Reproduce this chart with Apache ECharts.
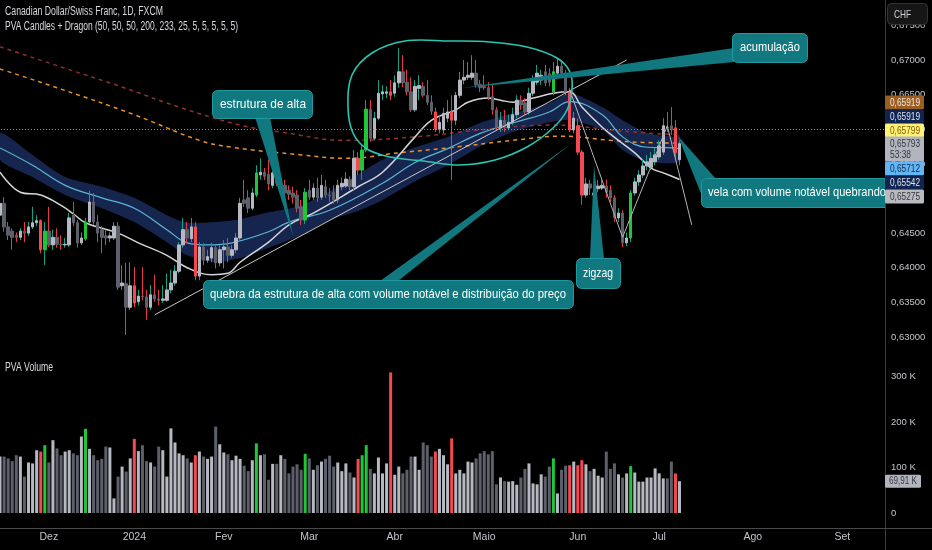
<!DOCTYPE html>
<html><head><meta charset="utf-8">
<script src="https://cdn.jsdelivr.net/npm/echarts/dist/echarts.min.js"></script>
<style>html,body{margin:0;padding:0;background:#000;}#c{width:932px;height:550px;}</style>
</head><body><div id="c"></div>
<script>
// ---------- DATA ----------
const openP = [
0.6476,0.6493,0.6459,0.6453,0.6447,0.6444,0.6453,0.6450,0.6459,0.6465,
0.6468,0.6426,0.6453,0.6433,0.6444,0.6434,0.6433,0.6433,0.6476,0.6465,
0.6436,0.6442,0.6466,0.6495,0.6466,0.6455,0.6446,0.6443,0.6443,0.6460,
0.6374,0.6377,0.6343,0.6374,0.6351,0.6359,0.6358,0.6343,0.6361,0.6355,
0.6353,0.6353,0.6368,0.6378,0.6395,0.6433,0.6455,0.6442,0.6459,0.6388,
0.6430,0.6411,0.6414,0.6429,0.6407,0.6426,0.6430,0.6418,0.6426,0.6443,
0.6498,0.6501,0.6486,0.6505,0.6534,0.6538,0.6535,0.6519,0.6537,0.6512,
0.6519,0.6512,0.6508,0.6505,0.6488,0.6469,0.6512,0.6502,0.6515,0.6502,
0.6517,0.6505,0.6509,0.6498,0.6517,0.6518,0.6527,0.6517,0.6558,0.6541,
0.6570,0.6629,0.6587,0.6616,0.6651,0.6652,0.6654,0.6652,0.6667,0.6683,
0.6668,0.6654,0.6628,0.6659,0.6662,0.6649,0.6639,0.6625,0.6600,0.6599,
0.6616,0.6625,0.6613,0.6649,0.6671,0.6675,0.6675,0.6681,0.6665,0.6662,
0.6660,0.6647,0.6628,0.6603,0.6613,0.6602,0.6610,0.6621,0.6642,0.6638,
0.6625,0.6652,0.6668,0.6671,0.6683,0.6680,0.6654,0.6681,0.6691,0.6681,
0.6654,0.6599,0.6605,0.6567,0.6505,0.6521,0.6505,0.6514,0.6515,0.6518,
0.6512,0.6501,0.6472,0.6479,0.6436,0.6443,0.6508,0.6524,0.6534,0.6547,
0.6545,0.6553,0.6560,0.6567,0.6603,0.6605,0.6602,0.6556];
const highP = [
0.6501,0.6502,0.6466,0.6457,0.6451,0.6457,0.6466,0.6466,0.6488,0.6476,
0.6470,0.6466,0.6488,0.6455,0.6457,0.6447,0.6443,0.6479,0.6495,0.6469,
0.6451,0.6472,0.6511,0.6508,0.6476,0.6460,0.6455,0.6451,0.6466,0.6466,
0.6404,0.6407,0.6408,0.6401,0.6368,0.6401,0.6368,0.6375,0.6390,0.6368,
0.6375,0.6392,0.6397,0.6404,0.6437,0.6472,0.6466,0.6472,0.6466,0.6437,
0.6436,0.6426,0.6436,0.6433,0.6433,0.6440,0.6443,0.6433,0.6450,0.6501,
0.6527,0.6512,0.6515,0.6548,0.6558,0.6544,0.6556,0.6548,0.6541,0.6530,
0.6527,0.6519,0.6517,0.6512,0.6498,0.6515,0.6527,0.6522,0.6530,0.6534,
0.6527,0.6515,0.6519,0.6527,0.6530,0.6538,0.6532,0.6570,0.6567,0.6577,
0.6642,0.6642,0.6625,0.6671,0.6664,0.6662,0.6671,0.6678,0.6717,0.6707,
0.6686,0.6675,0.6671,0.6678,0.6668,0.6671,0.6649,0.6631,0.6621,0.6631,
0.6642,0.6649,0.6654,0.6683,0.6700,0.6697,0.6707,0.6700,0.6671,0.6678,
0.6668,0.6664,0.6632,0.6625,0.6628,0.6621,0.6631,0.6649,0.6649,0.6645,
0.6660,0.6678,0.6693,0.6686,0.6693,0.6688,0.6697,0.6703,0.6700,0.6686,
0.6660,0.6625,0.6616,0.6570,0.6530,0.6527,0.6519,0.6527,0.6527,0.6527,
0.6519,0.6505,0.6486,0.6483,0.6451,0.6512,0.6530,0.6541,0.6556,0.6563,
0.6567,0.6573,0.6584,0.6616,0.6625,0.6632,0.6613,0.6584];
const lowP = [
0.6469,0.6452,0.6440,0.6426,0.6437,0.6440,0.6437,0.6446,0.6456,0.6460,
0.6421,0.6404,0.6430,0.6426,0.6429,0.6426,0.6429,0.6430,0.6460,0.6429,
0.6433,0.6439,0.6463,0.6462,0.6437,0.6421,0.6433,0.6437,0.6440,0.6368,
0.6368,0.6303,0.6339,0.6343,0.6346,0.6353,0.6325,0.6339,0.6351,0.6346,
0.6349,0.6351,0.6363,0.6374,0.6392,0.6429,0.6436,0.6437,0.6382,0.6382,
0.6404,0.6407,0.6408,0.6399,0.6402,0.6399,0.6408,0.6414,0.6421,0.6440,
0.6488,0.6479,0.6483,0.6502,0.6527,0.6527,0.6512,0.6515,0.6518,0.6508,
0.6504,0.6498,0.6493,0.6480,0.6462,0.6463,0.6498,0.6498,0.6495,0.6498,
0.6501,0.6495,0.6492,0.6493,0.6512,0.6515,0.6512,0.6512,0.6534,0.6527,
0.6567,0.6582,0.6584,0.6613,0.6642,0.6645,0.6642,0.6647,0.6660,0.6661,
0.6649,0.6625,0.6625,0.6642,0.6646,0.6635,0.6621,0.6596,0.6594,0.6594,
0.6610,0.6527,0.6606,0.6645,0.6665,0.6671,0.6671,0.6660,0.6654,0.6657,
0.6642,0.6621,0.6599,0.6596,0.6596,0.6599,0.6606,0.6616,0.6628,0.6621,
0.6621,0.6648,0.6664,0.6664,0.6662,0.6662,0.6649,0.6677,0.6677,0.6649,
0.6596,0.6594,0.6563,0.6491,0.6501,0.6505,0.6498,0.6509,0.6512,0.6501,
0.6495,0.6466,0.6466,0.6430,0.6431,0.6437,0.6504,0.6518,0.6530,0.6541,
0.6541,0.6548,0.6556,0.6563,0.6596,0.6592,0.6558,0.6548];
const closeP = [
0.6493,0.6459,0.6447,0.6444,0.6444,0.6453,0.6450,0.6459,0.6465,0.6468,
0.6426,0.6453,0.6433,0.6444,0.6434,0.6433,0.6434,0.6472,0.6465,0.6436,
0.6443,0.6466,0.6495,0.6466,0.6450,0.6444,0.6443,0.6446,0.6460,0.6372,
0.6378,0.6343,0.6374,0.6349,0.6359,0.6358,0.6343,0.6361,0.6355,0.6353,
0.6355,0.6368,0.6378,0.6395,0.6433,0.6455,0.6443,0.6459,0.6388,0.6430,
0.6411,0.6416,0.6429,0.6407,0.6426,0.6430,0.6418,0.6426,0.6443,0.6493,
0.6493,0.6486,0.6508,0.6537,0.6538,0.6532,0.6521,0.6537,0.6522,0.6519,
0.6508,0.6506,0.6502,0.6486,0.6469,0.6509,0.6502,0.6515,0.6501,0.6519,
0.6505,0.6504,0.6498,0.6519,0.6522,0.6528,0.6517,0.6558,0.6541,0.6570,
0.6629,0.6587,0.6616,0.6652,0.6654,0.6654,0.6649,0.6667,0.6683,0.6667,
0.6654,0.6628,0.6662,0.6663,0.6649,0.6639,0.6626,0.6600,0.6610,0.6623,
0.6625,0.6613,0.6649,0.6671,0.6675,0.6678,0.6681,0.6664,0.6660,0.6660,
0.6647,0.6628,0.6603,0.6613,0.6602,0.6610,0.6621,0.6642,0.6635,0.6625,
0.6652,0.6671,0.6681,0.6678,0.6667,0.6668,0.6683,0.6691,0.6681,0.6654,
0.6599,0.6616,0.6567,0.6505,0.6521,0.6515,0.6508,0.6518,0.6519,0.6509,
0.6501,0.6472,0.6479,0.6436,0.6443,0.6508,0.6524,0.6534,0.6547,0.6553,
0.6558,0.6563,0.6576,0.6605,0.6602,0.6599,0.6566,0.65793];
// volume in thousands
const volumeK = [
124,124,120,114,127,124,80,111,109,138,
135,149,111,160,142,127,135,138,131,127,
168,185,141,127,116,119,146,144,32,80,
102,91,120,163,136,149,114,111,102,146,
138,80,186,155,131,127,120,111,127,135,
124,119,124,190,151,133,129,116,126,119,
104,92,116,153,127,129,73,108,108,127,
119,87,102,107,95,130,120,95,105,113,
119,126,102,111,92,109,89,78,119,127,
149,97,87,122,87,109,309,84,102,87,
95,124,124,95,155,149,124,135,141,127,
107,164,87,95,87,113,111,120,131,136,
129,136,63,78,70,69,70,62,78,97,
109,65,63,85,80,102,120,43,95,104,
105,113,105,116,107,92,97,82,78,135,
97,109,85,78,87,103,89,69,69,78,
78,98,87,76,76,113,87,69.91];
// bars with notable (climax) volume
const climaxBars = [10,11,21,33,48,63,75,88,89,90,96,107,111,136,140,142,143,155,166];

// indicator lines (bar index, value)
const fastMaIdx = [0,5,10,15,18,21,29,34,41,46,52,56,59,66,71,77,88,94,102,106,112,115,120,123,126,131,136,140,143,148,152,156,160,163,166,167];
const fastMaVal = [0.6538,0.6509,0.6505,0.6490,0.6478,0.6465,0.6450,0.6436,0.6418,0.6400,0.6390,0.6392,0.6408,0.6437,0.6462,0.6479,0.6517,0.6538,0.6589,0.6613,0.6628,0.6639,0.6645,0.6642,0.6639,0.6645,0.6652,0.6654,0.6632,0.6603,0.6584,0.6566,0.6544,0.6537,0.6530,0.65275];
const midIdx = [0,8,16,25,33,41,46,51,57,66,71,81,94,102,110,118,126,135,140,148,153,159,166,167];
const midVal = [0.6573,0.6548,0.6519,0.6501,0.6486,0.6455,0.6436,0.6433,0.6436,0.6452,0.6466,0.6483,0.6522,0.6552,0.6572,0.6594,0.6609,0.6625,0.6640,0.6621,0.6589,0.6574,0.6573,0.65712];
const bandIdx = [0,8,16,25,33,41,46,53,59,66,74,81,88,94,102,110,118,126,135,140,148,153,159,166,167];
const bandUp = [0.6595,0.6563,0.6531,0.6517,0.6501,0.6476,0.6465,0.6466,0.6470,0.6480,0.6490,0.6510,0.6535,0.6556,0.6574,0.6589,0.6609,0.6623,0.6638,0.6652,0.6632,0.6613,0.6595,0.6589,0.65919];
const bandLo = [0.6556,0.6531,0.6505,0.6486,0.6466,0.6437,0.6418,0.6408,0.6414,0.6429,0.6447,0.6469,0.6482,0.6498,0.6525,0.6548,0.6575,0.6596,0.6610,0.6613,0.6599,0.6570,0.6553,0.6551,0.65542];
const slowAIdx = [0,15,30,44,59,69,85,102,118,135,141,150,158,167];
const slowAVal = [0.6719,0.6690,0.6661,0.6632,0.6606,0.6596,0.6584,0.6589,0.6599,0.6606,0.6605,0.6599,0.6595,0.65919];
const slowBIdx = [0,15,33,49,57,74,85,98,110,126,138,150,158,167];
const slowBVal = [0.6687,0.6658,0.6621,0.6584,0.6574,0.6563,0.6558,0.6566,0.6573,0.6584,0.6590,0.6584,0.6581,0.65799];
// drawings
const trendIdx = [38,154];
const trendVal = [0.6332,0.6700];
const zigIdx = [140,153,164,170];
const zigVal = [0.6657,0.6444,0.6605,0.6462];

const monthNames = ['Jan','Fev','Mar','Abr','Maio','Jun','Jul','Ago','Set','Out','Nov','Dez'];
const priceTagTexts = ['0,65919','0,65919','0,65799','0,65793','0,65712','0,65542','0,65275'];
const countdownText = '53:38';
const volTagText = '69,91 K';
const titleLine1 = 'Canadian Dollar/Swiss Franc, 1D, FXCM';
const titleLine2 = 'PVA Candles + Dragon (50, 50, 50, 200, 233, 25, 5, 5, 5, 5, 5)';
const volTitle = 'PVA Volume';
const notes = ['estrutura de alta','acumulação','quebra da estrutura de alta com volume notável e distribuição do preço','zigzag','vela com volume notável quebrando'];

// ---------- categories: trading days ----------
const holidays = ['2024-01-01'];
const dates = [];
(function(){
  let t = Date.UTC(2023,10,15);
  while (dates.length < 218) {
    const d = new Date(t);
    const s = d.toISOString().slice(0,10);
    const wd = d.getUTCDay();
    if (wd !== 0 && wd !== 6 && holidays.indexOf(s) < 0) dates.push(s);
    t += 86400000;
  }
})();

const AXF = "'Liberation Sans',Arial,sans-serif";
const COL = {bull:'#b6b9c1', bear:'#5d606b', up:'#1fc63a', down:'#f5484f', wUp:'#12a088', wDown:'#e8394a'};
function isUp(i){ return closeP[i] >= openP[i]; }
function bodyColor(i){
  const up = isUp(i);
  if (climaxBars.indexOf(i) >= 0) return up ? COL.up : COL.down;
  return up ? COL.bull : COL.bear;
}
const wickData = closeP.map((c,i)=>{ const w = isUp(i)?COL.wUp:COL.wDown;
  return {value:[openP[i], c, lowP[i], highP[i]], itemStyle:{color:w,color0:w,borderColor:w,borderColor0:w}}; });
const bodyData = closeP.map((c,i)=>{ const b = bodyColor(i);
  return {value:[openP[i], c, Math.min(openP[i],c), Math.max(openP[i],c)], itemStyle:{color:b,color0:b,borderColor:b,borderColor0:b}}; });
const volData = volumeK.map((v,i)=>({value:v, itemStyle:{color:bodyColor(i)}}));
const pairs = (ix, vals) => ix.map((x,k)=>[x, vals[k]]);
const lastClose = closeP[closeP.length-1];

const chart = echarts.init(document.getElementById('c'));
const axisLabelBase = {color:'#c3c5cc', fontSize:9.5, fontFamily:AXF};
chart.setOption({
  backgroundColor:'#000000',
  animation:false,
  grid:[
    {left:-2, right:47, top:-9.25, height:380.9, outerBoundsMode:'none', containLabel:false},
    {left:-2, right:47, top:353.75, height:159.25, outerBoundsMode:'none', containLabel:false}
  ],
  xAxis:[
    {type:'category', gridIndex:0, data:dates, show:false, boundaryGap:true},
    {type:'category', gridIndex:1, data:dates, boundaryGap:true,
      axisLine:{show:false}, axisTick:{show:false}, splitLine:{show:false},
      axisLabel:{color:'#c3c5cc', fontSize:10.5, fontFamily:AXF, margin:19,
        interval:(idx,v)=> idx>0 && v.slice(0,7)!==dates[idx-1].slice(0,7),
        formatter:(v)=>{ const m=+v.slice(5,7); return m===1 ? v.slice(0,4) : monthNames[m-1]; }}}
  ],
  yAxis:[
    {type:'value', gridIndex:0, position:'right', min:0.625, max:0.68, interval:0.005,
      axisLine:{show:false}, axisTick:{show:false}, splitLine:{show:false},
      axisLabel:Object.assign({}, axisLabelBase, {margin:6, showMinLabel:false, showMaxLabel:false,
        formatter:v=>v.toFixed(5).replace('.',',')})},
    {type:'value', gridIndex:1, position:'right', min:0, max:350, interval:100,
      axisLine:{show:false}, axisTick:{show:false}, splitLine:{show:false},
      axisLabel:Object.assign({}, axisLabelBase, {margin:6, showMaxLabel:false,
        formatter:v=> v===0 ? '0' : v+' K'})}
  ],
  series:[
    {type:'custom', name:'band', xAxisIndex:0, yAxisIndex:0, silent:true, z:1, data:[[0,0.65]],
      renderItem:(params, api)=>{
        const up = bandIdx.map((x,k)=>api.coord([x, bandUp[k]]));
        const lo = bandIdx.map((x,k)=>api.coord([x, bandLo[k]])).reverse();
        return {type:'polygon', shape:{points:up.concat(lo), smooth:0.25}, style:{fill:'#172752', opacity:0.95}};
      }},
    {type:'line', xAxisIndex:0, yAxisIndex:0, data:pairs(slowAIdx, slowAVal), smooth:0.4, showSymbol:false, silent:true, z:2,
      lineStyle:{color:'#8f2f2f', width:1.5, type:[4,4]}},
    {type:'line', xAxisIndex:0, yAxisIndex:0, data:pairs(slowBIdx, slowBVal), smooth:0.4, showSymbol:false, silent:true, z:2,
      lineStyle:{color:'#e8922c', width:1.5, type:[4,4]}},
    {type:'line', xAxisIndex:0, yAxisIndex:0, data:pairs(midIdx, midVal), smooth:0.4, showSymbol:false, silent:true, z:2,
      lineStyle:{color:'#5cb6d2', width:1.2}},
    {type:'line', xAxisIndex:0, yAxisIndex:0, data:pairs(fastMaIdx, fastMaVal), smooth:0.4, showSymbol:false, silent:true, z:2,
      lineStyle:{color:'#d6d6d6', width:1.5}},
    {type:'candlestick', xAxisIndex:0, yAxisIndex:0, data:wickData, barWidth:1, silent:true, z:3},
    {type:'candlestick', xAxisIndex:0, yAxisIndex:0, data:bodyData, barWidth:3, silent:true, z:4,
      markLine:{silent:true, symbol:['none','none'], label:{show:false},
        lineStyle:{color:'#8c8f98', type:[1,2], width:1}, data:[{yAxis:lastClose}]}},
    {type:'bar', xAxisIndex:1, yAxisIndex:1, data:volData, barWidth:3, silent:true},
    {type:'line', xAxisIndex:0, yAxisIndex:0, data:pairs(trendIdx, trendVal), showSymbol:false, silent:true, z:6,
      lineStyle:{color:'#c9c9c9', width:1}},
    {type:'line', xAxisIndex:0, yAxisIndex:0, data:pairs(zigIdx, zigVal), showSymbol:false, silent:true, z:6,
      lineStyle:{color:'#b5b5b5', width:1}}
  ]
});

// ---------- annotations / labels ----------
const mctx = document.createElement('canvas').getContext('2d');
function fitText(str, x, y, targetW, size, family, fill, z){
  mctx.font = size + 'px ' + family;
  const w = mctx.measureText(str).width || targetW;
  return {type:'text', x:x, y:y, scaleX:targetW/w, z:z,
    style:{text:str, fill:fill, fontSize:size, fontFamily:family, verticalAlign:'middle', align:'left'}};
}
const SANS = "'Liberation Sans',Arial,sans-serif";
const TEAL = '#10787e', TEAL_B = '#1f9aa0';
const callouts = [
  {box:[212,90,100,28], tx:220, tw:86,  wedge:[[255,117],[270,117],[293,236]]},
  {box:[732,33,75,29],  tx:740, tw:60,  wedge:[[734,48],[734,62],[462,88]]},
  {box:[203,280,370,28],tx:210, tw:356, wedge:[[380,281],[398,281],[572,143]]},
  {box:[576,258,44,30], tx:583, tw:30,  wedge:[[590,259],[604,259],[594,165]]},
  {box:[701,178,230,29],tx:708, tw:178, wedge:[[678,136],[702,196],[716,179]]}
];
const els = [];
els.push({type:'polygon', z:40, shape:{smooth:0.35, points:[[405,41],[450,41],[490,42],[527,47],[557,58],[570,72],[572,90],[567,110],[553,128],[527,147],[495,160],[460,165],[423,161],[390,157],[367,149],[353,133],[348,107],[352,75],[372,53]]},
  style:{fill:'none', stroke:'#2cc4b3', lineWidth:1.6}});
callouts.forEach((c,k)=>{
  els.push({type:'polygon', z:50, shape:{points:c.wedge}, style:{fill:TEAL}});
  els.push({type:'rect', z:51, shape:{x:c.box[0]+0.5, y:c.box[1]+0.5, width:c.box[2], height:c.box[3], r:5}, style:{fill:TEAL, stroke:TEAL_B, lineWidth:1}});
  els.push(fitText(notes[k], c.tx, c.box[1]+c.box[3]/2, c.tw, 13, SANS, '#ffffff', 52));
});
els.push(fitText(titleLine1, 5, 12, 158, 12, SANS, '#d7d9df', 60));
els.push(fitText(titleLine2, 5, 27, 233, 12, SANS, '#d7d9df', 60));
els.push(fitText(volTitle, 5, 368, 48, 12, SANS, '#d7d9df', 60));
els.push({type:'rect', z:90, shape:{x:886, y:170, width:46, height:45}, style:{fill:'#000'}});
els.push({type:'line', z:95, shape:{x1:885.5,y1:0,x2:885.5,y2:550}, style:{stroke:'#3b3b3b', lineWidth:1}});
els.push({type:'line', z:95, shape:{x1:0,y1:528.5,x2:932,y2:528.5}, style:{stroke:'#4a4a4a', lineWidth:1}});
els.push({type:'rect', z:100, shape:{x:887.5,y:3.5,width:40,height:21,r:4}, style:{fill:'#161616', stroke:'#333333', lineWidth:1}});
els.push(fitText('CHF', 894, 14.5, 17, 11, SANS, '#d1d4dc', 101));
const py = chart.convertToPixel({yAxisIndex:0}, lastClose);
const tagDefs = [
  {dy:-41, bg:'#9a5d22', fg:'#f2e8dc'},
  {dy:-27, bg:'#0f2451', fg:'#dfe3ee'},
  {dy:-13, bg:'#fff176', fg:'#7b5a00'},
  {dy:0,   bg:'#b2b5be', fg:'#33363f', two:true},
  {dy:25,  bg:'#64b5f6', fg:'#0e2a4a'},
  {dy:39,  bg:'#0f2451', fg:'#dfe3ee'},
  {dy:53,  bg:'#b9bac0', fg:'#33363f'}
];
tagDefs.forEach((t,k)=>{
  const cy = py + t.dy;
  const h = t.two ? 25 : 14;
  els.push({type:'rect', z:110, shape:{x:885, y:cy-7, width:39, height:h, r:1.5}, style:{fill:t.bg}});
  els.push(fitText(priceTagTexts[k], 890, cy, 30, 11, SANS, t.fg, 111));
  if (t.two) els.push(fitText(countdownText, 890, cy+11.5, 21, 11, SANS, t.fg, 111));
});
const vy = chart.convertToPixel({yAxisIndex:1}, volumeK[volumeK.length-1]);
els.push({type:'rect', z:110, shape:{x:885, y:vy-6.5, width:36, height:13, r:1.5}, style:{fill:'#b2b5be'}});
els.push(fitText(volTagText, 889, vy, 28, 11, SANS, '#33363f', 111));
chart.setOption({graphic:{elements:els}});
</script></body></html>
